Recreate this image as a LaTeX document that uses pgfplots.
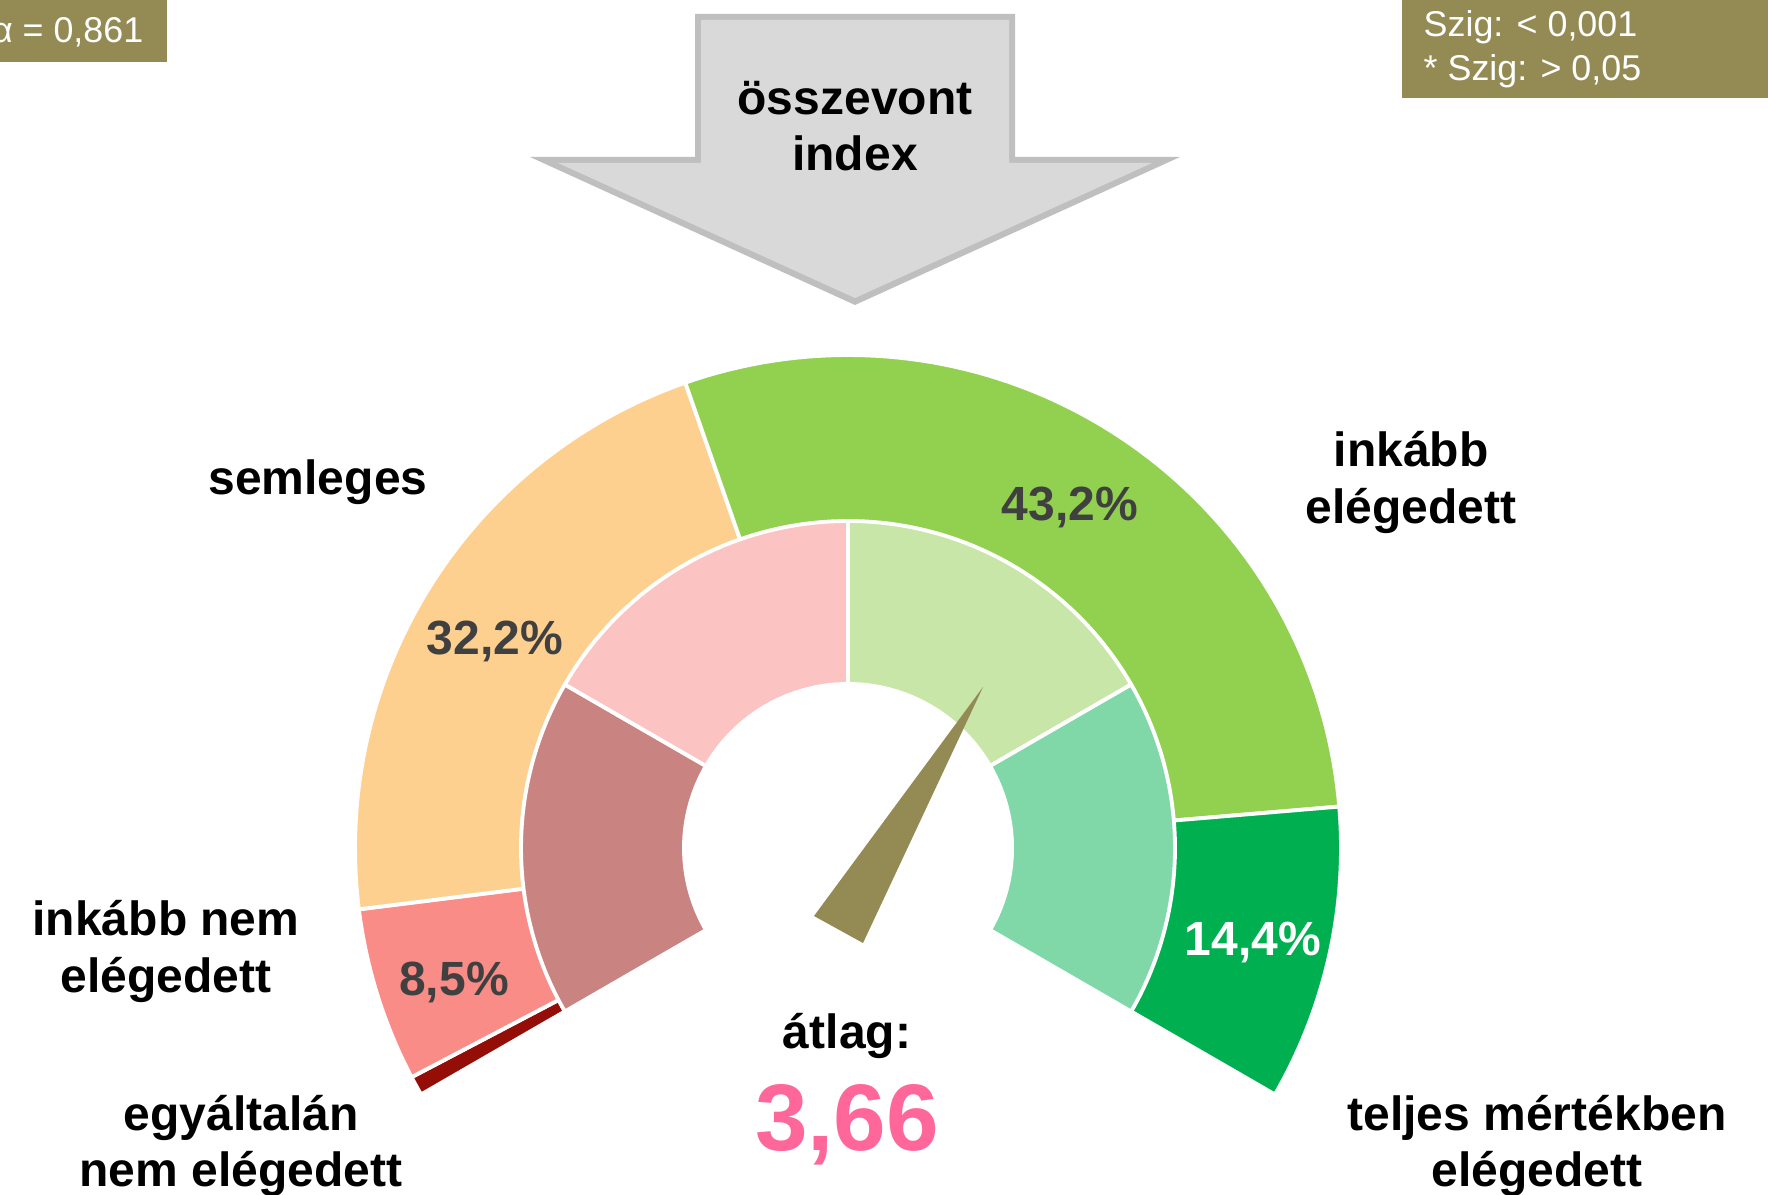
\documentclass[border=0pt]{standalone}
\usepackage{pgfplots}
\pgfplotsset{compat=1.18}
\usepackage{fontspec}
\setmainfont{Liberation Sans}

\definecolor{c1}{RGB}{148,14,7}
\definecolor{c2}{RGB}{249,140,134}
\definecolor{c3}{RGB}{253,208,143}
\definecolor{c4}{RGB}{146,208,80}
\definecolor{c5}{RGB}{0,176,80}
\definecolor{i1}{RGB}{201,131,128}
\definecolor{i2}{RGB}{251,196,194}
\definecolor{i3}{RGB}{200,230,167}
\definecolor{i4}{RGB}{128,216,168}
\definecolor{olivebox}{RGB}{148,138,84}
\definecolor{arrowfill}{RGB}{217,217,217}
\definecolor{arrowline}{RGB}{191,191,191}
\definecolor{pct}{RGB}{64,64,64}
\definecolor{avg}{RGB}{255,102,153}

% outer ring: shares (%)
\def\pA{0.95}\def\pB{8.5}\def\pC{32.2}\def\pD{43.2}\def\pE{14.4}
\pgfmathsetmacro\k{240/(\pA+\pB+\pC+\pD+\pE)}
\pgfmathsetmacro\aA{210}
\pgfmathsetmacro\aB{\aA-\pA*\k}
\pgfmathsetmacro\aC{\aB-\pB*\k}
\pgfmathsetmacro\aD{\aC-\pC*\k}
\pgfmathsetmacro\aE{\aD-\pD*\k}
\pgfmathsetmacro\aF{\aE-\pE*\k}

\newcommand\sector[4]{%
  \addplot[fill=#1, draw=white, line width=1.1pt, line join=round, domain=#4:#3, samples=80]
    ({848+#2*cos(x)},{848-#2*sin(x)}) -- (axis cs:848,848) -- cycle;}

\newcommand\lab{\fontsize{13.66}{16.4}\selectfont\bfseries}
\newcommand\boxfont{\fontsize{10.2}{12}\selectfont}

\begin{document}
\begin{tikzpicture}
\useasboundingbox (0,0) rectangle (176.8mm,119.4mm);
\clip (0,0) rectangle (176.8mm,119.4mm);
\begin{axis}[at={(0,0)}, anchor=south west, x=0.1mm, y=0.1mm,
  xmin=0, xmax=1768, ymin=0, ymax=1194, y dir=reverse,
  hide axis, clip=false]

% outer ring
\sector{c1}{493}{\aA}{\aB}
\sector{c2}{493}{\aB}{\aC}
\sector{c3}{493}{\aC}{\aD}
\sector{c4}{493}{\aD}{\aE}
\sector{c5}{493}{\aE}{\aF}
% inner ring (scale bands 1-2, 2-3, 3-4, 4-5)
\sector{i1}{327}{210}{150}
\sector{i2}{327}{150}{90}
\sector{i3}{327}{90}{30}
\sector{i4}{327}{30}{-30}
% hole
\addplot[fill=white, draw=none, domain=0:360, samples=120] ({848+166*cos(x)},{848-166*sin(x)}) -- cycle;

% needle (mean 3.66)
\addplot[fill=olivebox, draw=none] coordinates {(814,916) (983,687) (863,943)} -- cycle;

% arrow: outline (outer shape) and inner fill
\addplot[fill=arrowline, draw=none]
  coordinates {(695,14) (1015,14) (1015,157) (1180,157) (855,305) (530,157) (695,157)} -- cycle;
\addplot[fill=arrowfill, draw=none]
  coordinates {(701,20) (1009,20) (1009,163) (1152,163) (855,298) (558,163) (701,163)} -- cycle;
\node[anchor=base, inner sep=0, font=\lab] at (axis cs:855,115) {összevont};
\node[anchor=base, inner sep=0, font=\lab] at (axis cs:855,171) {index};

% boxes
\addplot[fill=olivebox, draw=none] coordinates {(-10,-10) (167,-10) (167,62) (-10,62)} -- cycle;
\node[anchor=base east, inner sep=0, text=white, font=\boxfont] at (axis cs:144,43) {α = 0,861};
\addplot[fill=olivebox, draw=none] coordinates {(1402,-10) (1790,-10) (1790,98) (1402,98)} -- cycle;
\node[anchor=base west, inner sep=0, text=white, font=\boxfont] at (axis cs:1423,37) {Szig: < 0,001};
\node[anchor=base west, inner sep=0, text=white, font=\boxfont] at (axis cs:1423,81) {* Szig: > 0,05};

% category labels
\node[anchor=base, inner sep=0, font=\lab] at (axis cs:318,494) {semleges};
\node[anchor=base, inner sep=0, font=\lab] at (axis cs:1411,466) {inkább};
\node[anchor=base, inner sep=0, font=\lab] at (axis cs:1411,523) {elégedett};
\node[anchor=base, inner sep=0, font=\lab] at (axis cs:166,935) {inkább nem};
\node[anchor=base, inner sep=0, font=\lab] at (axis cs:166,992) {elégedett};
\node[anchor=base, inner sep=0, font=\lab] at (axis cs:241,1130) {egyáltalán};
\node[anchor=base, inner sep=0, font=\lab] at (axis cs:241,1186) {nem elégedett};
\node[anchor=base, inner sep=0, font=\lab] at (axis cs:1537,1130) {teljes mértékben};
\node[anchor=base, inner sep=0, font=\lab] at (axis cs:1537,1186) {elégedett};

% percentages
\node[anchor=base, inner sep=0, font=\lab, text=pct] at (axis cs:495,654) {32,2\%};
\node[anchor=base, inner sep=0, font=\lab, text=pct] at (axis cs:1070,520) {43,2\%};
\node[anchor=base, inner sep=0, font=\lab, text=pct] at (axis cs:454,995) {8,5\%};
\node[anchor=base, inner sep=0, font=\lab, text=white] at (axis cs:1253,955) {14,4\%};

% mean
\node[anchor=base, inner sep=0, font=\lab] at (axis cs:847,1048) {átlag:};
\node[anchor=base, inner sep=0, font=\fontsize{26.9}{30}\selectfont\bfseries, text=avg] at (axis cs:847,1150) {3,66};
\end{axis}
\end{tikzpicture}
\end{document}
